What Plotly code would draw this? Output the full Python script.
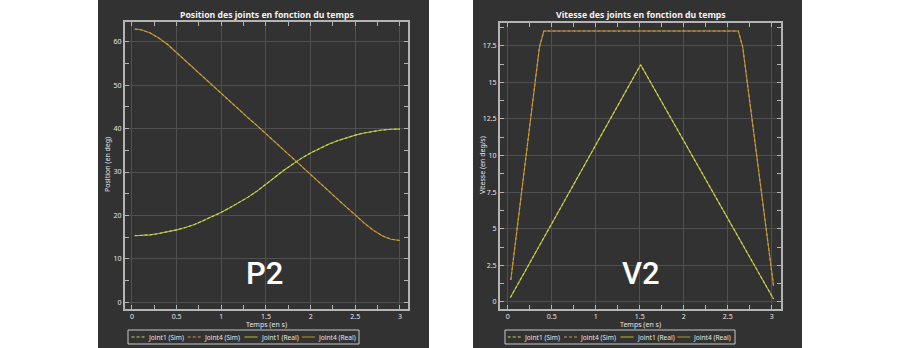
import plotly.graph_objects as go

# ---- data -------------------------------------------------------------
t_pos = [0.03, 0.1, 0.2, 0.3, 0.4, 0.5, 0.6, 0.7, 0.8, 0.9, 1.0, 1.1, 1.2, 1.3,
         1.4, 1.5, 1.6, 1.7, 1.8, 1.9, 2.0, 2.1, 2.2, 2.3, 2.4, 2.5, 2.6, 2.7,
         2.8, 2.9, 3.0]
joint1_pos = [15.3, 15.35, 15.5, 15.8, 16.2, 16.65, 17.2, 17.9, 18.8, 19.7, 20.7,
              21.8, 23.0, 24.2, 25.6, 27.1, 28.8, 30.4, 31.9, 33.2, 34.4, 35.4,
              36.4, 37.2, 37.9, 38.5, 39.0, 39.4, 39.7, 39.85, 39.9]
joint4_pos = [63.0, 62.8, 62.1, 60.9, 59.4, 57.5, 55.7, 53.8, 51.9, 50.0, 48.2,
              46.3, 44.4, 42.5, 40.7, 38.8, 36.9, 35.0, 33.2, 31.3, 29.4, 27.6,
              25.7, 23.8, 21.9, 20.1, 18.2, 16.6, 15.3, 14.5, 14.2]

t_vel1 = [0.03, 1.51, 3.02]
joint1_vel = [0.3, 16.2, 0.2]
t_vel4 = [0.035, 0.36, 0.41, 2.62, 2.67, 3.02]
joint4_vel = [1.5, 17.4, 18.5, 18.5, 17.4, 1.1]

legend_names = ["Joint1 (Sim)", "Joint4 (Sim)", "Joint1 (Real)", "Joint4 (Real)"]
colors = {"Joint1 (Sim)": "#cfd45a", "Joint4 (Sim)": "#d49a3c",
          "Joint1 (Real)": "#a9b232", "Joint4 (Real)": "#ab8c2e"}
DASH = "3px,2px"

PANEL = "#323232"
AXIS = "#b4b4b4"
GRID = "#4f4f4f"
TXT = "#e6e6e6"
FONT = "Noto Sans"
W, H = 900, 348

fig = go.Figure()


def add_set(t1, y1, t4, y4, xa, ya):
    series = [("Joint1 (Real)", t1, y1), ("Joint4 (Real)", t4, y4),
              ("Joint1 (Sim)", t1, y1), ("Joint4 (Sim)", t4, y4)]
    for name, tx, vy in series:
        fig.add_trace(go.Scatter(
            x=tx, y=vy, mode="lines", name=name, xaxis=xa, yaxis=ya,
            showlegend=False,
            line=dict(color=colors[name], width=1.1,
                      dash=DASH if "Sim" in name else "solid")))


add_set(t_pos, joint1_pos, t_pos, joint4_pos, "x", "y")
add_set(t_vel1, joint1_vel, t_vel4, joint4_vel, "x2", "y2")

# dark backgrounds behind each chart
for x0, x1 in [(98, 429), (473, 802)]:
    fig.add_shape(type="rect", xref="paper", yref="paper",
                  x0=x0 / W, x1=x1 / W, y0=0, y1=1,
                  fillcolor=PANEL, line_width=0, layer="below")


def axis_style(domain, rng, dtick, minor, anchor):
    return dict(domain=domain, range=rng, dtick=dtick, tick0=0,
                showline=True, linecolor=AXIS, linewidth=2, mirror="allticks",
                ticks="inside", ticklen=4, tickcolor=AXIS, tickwidth=1,
                minor=dict(dtick=minor, tick0=0, ticks="inside", ticklen=4,
                           tickcolor=AXIS, showgrid=False),
                showgrid=True, gridcolor=GRID, gridwidth=1, zeroline=False,
                tickfont=dict(size=7, color=TXT, family=FONT),
                anchor=anchor, automargin=False)


fig.update_layout(
    width=W, height=H, margin=dict(l=0, r=0, t=0, b=0, autoexpand=False),
    paper_bgcolor="white", plot_bgcolor=PANEL,
    font=dict(family=FONT, color=TXT), showlegend=False,
    xaxis=axis_style([125 / W, 408 / W], [-0.078, 3.09], 0.5, 0.25, "y"),
    yaxis=axis_style([1 - 309 / H, 1 - 22 / H], [-1.6, 64.6], 10, 5, "x"),
    xaxis2=axis_style([500 / W, 781 / W], [-0.088, 3.105], 0.5, 0.25, "y2"),
    yaxis2=axis_style([1 - 309 / H, 1 - 23 / H], [-0.48, 19.05], 2.5, 1.25, "x2"),
)


def text(x, y, s, size=7, color=TXT, angle=0, xanchor="center", family=FONT, weight=None):
    f = dict(size=size, color=color, family=family)
    if weight is not None:
        f["weight"] = weight
    fig.add_annotation(xref="paper", yref="paper", x=x / W, y=1 - y / H, text=s,
                       showarrow=False, textangle=angle, xanchor=xanchor,
                       yanchor="middle", font=f, borderpad=0)


# chart titles and axis titles
text((125 + 408) / 2, 15, "<b>Position des joints en fonction du temps</b>", 8.7, "#f2f2f2")
text((500 + 781) / 2, 15, "<b>Vitesse des joints en fonction du temps</b>", 8.7, "#f2f2f2")
text((125 + 408) / 2, 324, "Temps (en s)")
text((500 + 781) / 2, 324, "Temps (en s)")
text(107, 165, "Position (en deg)", angle=-90)
text(482, 165, "Vitesse (en deg/s)", angle=-90)

# legends (one per chart)
for box_x0, box_x1, item_x in [(128, 359, [131.5, 187.7, 244.5, 302]),
                               (505, 735, [507.7, 564, 620.5, 677.3])]:
    fig.add_shape(type="rect", xref="paper", yref="paper",
                  x0=box_x0 / W, x1=box_x1 / W, y0=1 - 344 / H, y1=1 - 330 / H,
                  line=dict(color="#c8c8c8", width=1), fillcolor=PANEL)
    for name, x in zip(legend_names, item_x):
        fig.add_shape(type="line", xref="paper", yref="paper",
                      x0=x / W, x1=(x + 13) / W, y0=1 - 337 / H, y1=1 - 337 / H,
                      line=dict(color=colors[name], width=1.1,
                                dash=DASH if "Sim" in name else "solid"))
        text(x + 15, 337, name, size=6.6, xanchor="left")

# large panel labels
text(264, 273, "P2", 31, "white", family="Roboto", weight=500)
text(641, 273, "V2", 31, "white", family="Roboto", weight=500)

fig.write_html("out.html")
